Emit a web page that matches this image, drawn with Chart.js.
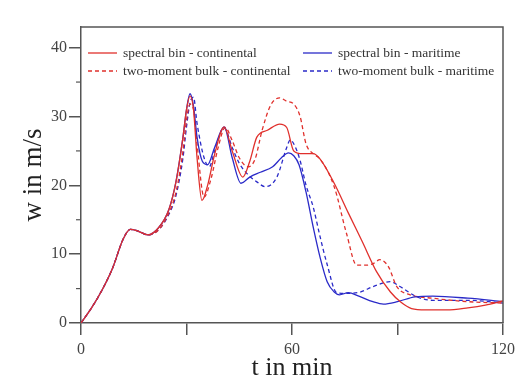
<!DOCTYPE html>
<html><head><meta charset="utf-8">
<script src="https://cdn.jsdelivr.net/npm/chart.js@4/dist/chart.umd.min.js"></script>
<style>html,body{margin:0;padding:0;background:#fff;}#wrap{width:520px;height:382px;position:relative;}</style>
</head><body><div id="wrap"><canvas id="c"></canvas></div>
<script>
// ---- data ----
const seriesLabels = ["spectral bin - continental","spectral bin - maritime","two-moment bulk - continental","two-moment bulk - maritime"];
const xTickValues = [0,30,60,90,120];
const xTickLabels = {0:"0",60:"60",120:"120"};
const yTickLabels = [0,10,20,30,40];
const yMinorTicks = [5,15,25,35];

const sbcT = [0,3,6,9,12,14,16,19,22,25,27,29,30,31,32,33,34.4,36,38,40.7,43,46,48,50,53,56.5,58.5,60.5,63,66,68,72,76,80,84,88,91,94,98,104,110,115,120];
const sbcW = [0,2.2,4.8,8,12.2,13.6,13.4,12.8,13.8,16.5,20.5,27,31,33,31,24,17.8,20,24.5,28.5,25,21.2,23.5,27,28,28.9,28.4,25,24.6,24.6,23.8,20.3,16,11.8,7.5,4.5,3,2.1,1.9,1.9,2.2,2.6,3.2];

const sbmT = [0,3,6,9,12,14,16,19,22,25,27,29,30,31,32,33,34.5,36,38,40.7,43,45.5,48,51,54.5,57,59,60.5,62,64,66,68,70,72,73.5,76,79,83,86,90,95,100,110,120];
const sbmW = [0,2.2,4.8,8,12.2,13.6,13.4,12.8,13.8,16.5,20.5,27,31,33.3,31.5,27,23.5,23,25.5,28.5,24,20.3,21.2,21.9,22.7,24,24.7,24.3,23,19,14,9.5,6,4.5,4.1,4.4,3.9,3.1,2.75,3.1,3.8,3.9,3.6,3.1];

const bmcT = [0,3,6,9,12,14,16,19,22,25,27,29,30,31,32,33,35,37,39,41,43,45,47.5,49.5,51.5,54,56.5,58.5,60.5,62.3,64,66,68,72,75.5,78.4,81.2,83,85,87.4,89.8,93.6,100,110,120];
const bmcW = [0,2.2,4.8,8,12.2,13.6,13.4,12.8,13.5,16,19,25,29.5,31.8,31,26,18.3,21,25.5,28.4,26.5,24,22.7,23.8,28,31.7,32.7,32.2,31.8,30,26,24.6,23.8,19.8,13,8.4,8.4,8.6,9.2,8.2,5.3,4.1,3.6,3.1,2.9];

const bmmT = [0,3,6,9,12,14,16,19,22,25,27,29,30,31,32,33,35,36.5,38,40.7,43,45,47.2,50,52.4,55.7,58.5,59.5,61,62.3,64,66,68,70,72.7,75.6,79.4,83.1,87.9,90.7,95.5,100,110,120];
const bmmW = [0,2.2,4.8,8,12.2,13.6,13.4,12.8,13.5,15.8,18.5,24,28.5,32,32.8,29,24,22.7,25,28.4,25.5,23.2,21.7,20.5,19.8,21.2,25.5,26.6,25.5,23.6,20,16.9,12.5,8.5,4.4,4.3,4.5,5.3,6,5.3,3.8,3.3,3.3,2.9];

// ---- build ----
const RED = "#e0302c", BLUE = "#2a2ac8";
const pts = (T, W) => T.map((t, i) => ({x: t, y: W[i]}));
const SERIF = "'Liberation Serif','DejaVu Serif',serif";

const styles = [
  {c: RED, d: []}, {c: BLUE, d: []}, {c: RED, d: [4,3]}, {c: BLUE, d: [4,3]}
];
const dataSets = [pts(sbcT,sbcW), pts(sbmT,sbmW), pts(bmcT,bmcW), pts(bmmT,bmmW)];

const framePlugin = {
  id: 'frame',
  afterDraw(chart) {
    const ctx = chart.ctx, a = chart.chartArea, ys = chart.scales.y;
    ctx.save();
    ctx.strokeStyle = '#555'; ctx.lineWidth = 1.5;
    ctx.beginPath();
    ctx.moveTo(a.left, a.top); ctx.lineTo(a.right, a.top); ctx.lineTo(a.right, a.bottom);
    ctx.stroke();
    // minor y ticks
    ctx.lineWidth = 1.2;
    yMinorTicks.forEach(v => {
      const py = ys.getPixelForValue(v);
      ctx.beginPath(); ctx.moveTo(a.left - 5, py); ctx.lineTo(a.left, py); ctx.stroke();
    });
    // legend
    ctx.font = "13.5px " + SERIF;
    ctx.textBaseline = 'middle';
    ctx.fillStyle = '#333';
    const pos = [[88,53],[303,53],[88,71],[303,71]];
    [0,1,2,3].forEach((di, k) => {
      const [lx, ly] = pos[k];
      const st = styles[di];
      ctx.strokeStyle = st.c; ctx.lineWidth = 1.3; ctx.setLineDash(st.d);
      ctx.beginPath(); ctx.moveTo(lx, ly); ctx.lineTo(lx + 29, ly); ctx.stroke();
      ctx.setLineDash([]);
      ctx.fillText(seriesLabels[di], lx + 35, ly + 0.5);
    });
    ctx.restore();
  }
};

new Chart(document.getElementById('c'), {
  type: 'line',
  data: {
    datasets: dataSets.map((d, i) => ({
      label: seriesLabels[i], data: d,
      borderColor: styles[i].c, borderDash: styles[i].d,
      borderWidth: 1.3, pointRadius: 0, fill: false,
      cubicInterpolationMode: 'monotone'
    }))
  },
  options: {
    responsive: true, maintainAspectRatio: false, animation: false,
    layout: {padding: {left: 0, right: 17, top: 27, bottom: 0}},
    plugins: {legend: {display: false}, tooltip: {enabled: false}},
    scales: {
      x: {
        type: 'linear', min: 0, max: 120,
        afterBuildTicks: s => { s.ticks = xTickValues.map(v => ({value: v})); },
        ticks: {
          autoSkip: false, maxRotation: 0, padding: 5,
          color: '#444', font: {family: SERIF, size: 16},
          callback: v => (xTickLabels[v] !== undefined ? xTickLabels[v] : '')
        },
        grid: {drawOnChartArea: false, tickLength: 12, color: '#555', lineWidth: 1.5},
        border: {color: '#555', width: 1.5},
        title: {display: true, text: 't in min', color: '#222',
          font: {family: SERIF, size: 26}, padding: {top: 0, bottom: -2}},
        afterFit: s => { s.height = 59; }
      },
      y: {
        type: 'linear', min: 0, max: 43,
        afterBuildTicks: s => { s.ticks = yTickLabels.map(v => ({value: v})); },
        ticks: {color: '#444', font: {family: SERIF, size: 16}, padding: 2},
        grid: {drawOnChartArea: false, tickLength: 12, color: '#555', lineWidth: 1.5},
        border: {color: '#555', width: 1.5},
        title: {display: true, text: 'w in m/s', color: '#222',
          font: {family: SERIF, size: 27}, padding: {top: 18, bottom: 0}},
        afterFit: s => { s.width = 81; }
      }
    }
  },
  plugins: [framePlugin]
});
</script></body></html>
